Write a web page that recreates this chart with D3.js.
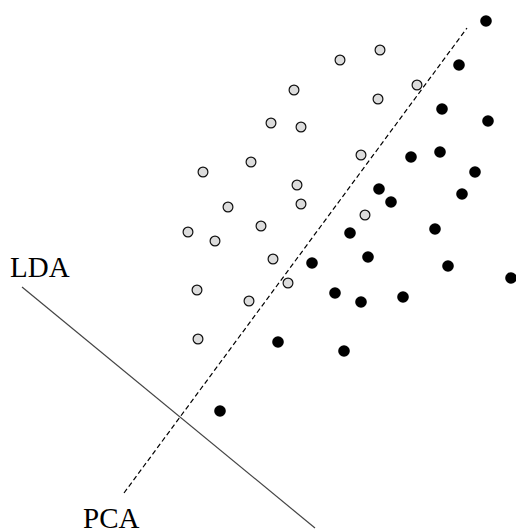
<!DOCTYPE html>
<html>
<head>
<meta charset="utf-8">
<script src="https://cdn.jsdelivr.net/npm/d3@7"></script>
<style>
  html, body { margin: 0; padding: 0; background: #fff; }
  svg { display: block; }
</style>
</head>
<body>
<script>
// Data coordinates (x to the right, y upward)
const classAx = [340, 380, 294, 271, 301, 417, 378, 251, 203, 361, 297, 228, 301, 261, 188, 215, 273, 365, 288, 197, 249, 198];
const classAy = [471, 481, 441, 408, 404, 446, 432, 369, 359, 376, 346, 324, 327, 305, 299, 290, 272, 316, 248, 241, 230, 192];
const classBx = [486, 459, 442, 488, 411, 440, 475, 379, 391, 462, 350, 435, 312, 368, 448, 511, 335, 361, 403, 278, 344, 220];
const classBy = [510, 466, 422, 410, 374, 379, 359, 342, 329, 337, 298, 302, 268, 274, 265, 253, 238, 229, 234, 189, 180, 120];
const ldaLine = [[22, 244], [315, 3]];
const pcaLine = [[124, 38], [467, 503]];
const labels = [
  { text: "LDA", x: 10, y: 254 },
  { text: "PCA", x: 83, y: 3 }
];

const W = 516, H = 531;
const x = d3.scaleLinear().domain([0, 516]).range([0, W]);
const y = d3.scaleLinear().domain([0, 531]).range([H, 0]);

const svg = d3.select("body").append("svg").attr("width", W).attr("height", H);

const line = d3.line().x(d => x(d[0])).y(d => y(d[1]));

svg.append("path").datum(ldaLine).attr("d", line)
  .attr("fill", "none").attr("stroke", "#444").attr("stroke-width", 1.2);
svg.append("path").datum(pcaLine).attr("d", line)
  .attr("fill", "none").attr("stroke", "#000").attr("stroke-width", 1.2)
  .attr("stroke-dasharray", "5,3");

const A = classAx.map((v, i) => [v, classAy[i]]);
const B = classBx.map((v, i) => [v, classBy[i]]);

svg.selectAll("circle.a").data(A).enter().append("circle")
  .attr("class", "a")
  .attr("cx", d => x(d[0])).attr("cy", d => y(d[1])).attr("r", 4.9)
  .attr("fill", "#dcdcdc").attr("stroke", "#111").attr("stroke-width", 1.2);

svg.selectAll("circle.b").data(B).enter().append("circle")
  .attr("class", "b")
  .attr("cx", d => x(d[0])).attr("cy", d => y(d[1])).attr("r", 5.8)
  .attr("fill", "#000");

svg.selectAll("text.lbl").data(labels).enter().append("text")
  .attr("class", "lbl")
  .attr("x", d => x(d.x)).attr("y", d => y(d.y))
  .attr("font-family", "'Liberation Serif', 'Times New Roman', serif")
  .attr("font-size", 29)
  .attr("fill", "#000")
  .text(d => d.text);
</script>
</body>
</html>
